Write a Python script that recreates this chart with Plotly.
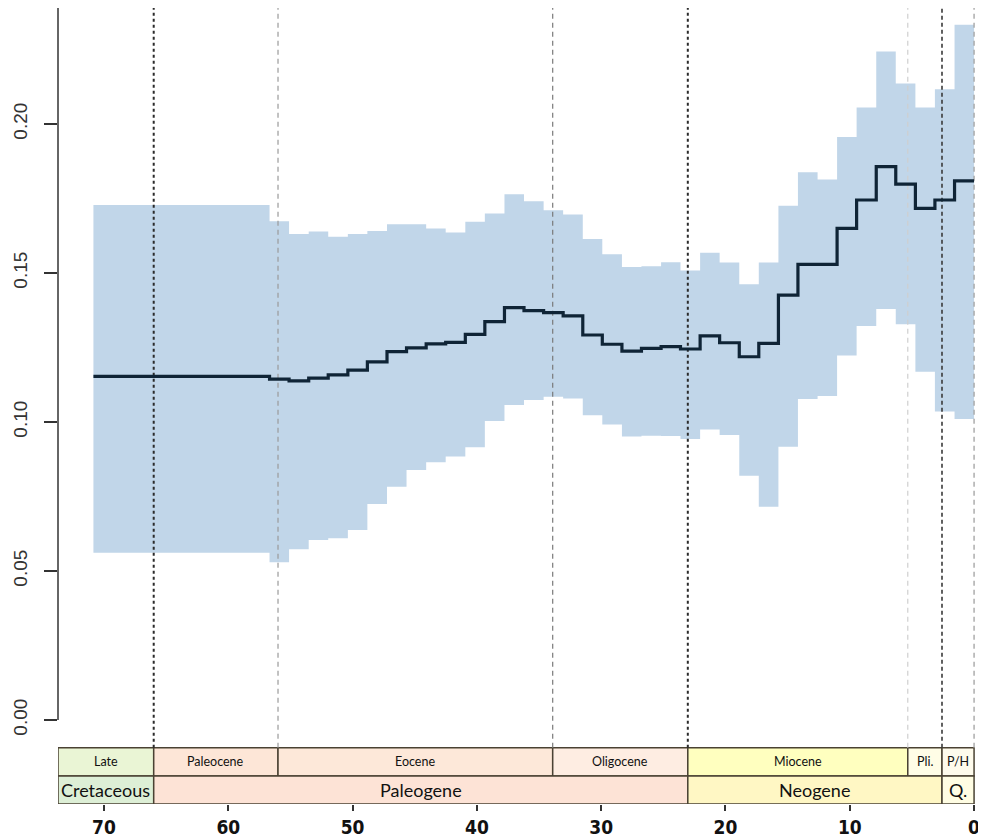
import plotly.graph_objects as go

# ---------------- data ----------------
bin_edges = [70.85, 69.28, 67.70, 66.13, 64.55, 62.98, 61.40, 59.83, 58.25, 56.68,
             55.11, 53.53, 51.96, 50.38, 48.81, 47.23, 45.66, 44.08, 42.51, 40.93,
             39.36, 37.78, 36.21, 34.63, 33.06, 31.48, 29.91, 28.33, 26.76, 25.18,
             23.62, 22.04, 20.47, 18.89, 17.32, 15.74, 14.17, 12.59, 11.02, 9.45,
             7.87, 6.30, 4.72, 3.15, 1.57, 0.00]

mean_vals = [0.1153, 0.1153, 0.1153, 0.1153, 0.1153, 0.1153, 0.1153, 0.1153, 0.1153,
             0.1144, 0.1138, 0.1147, 0.1158, 0.1174, 0.1202, 0.1236, 0.1249, 0.1262,
             0.1267, 0.1294, 0.1337, 0.1384, 0.1374, 0.1367, 0.1356, 0.1292, 0.1261,
             0.1238, 0.1247, 0.1253, 0.1245, 0.1289, 0.1266, 0.1219, 0.1264, 0.1426,
             0.1529, 0.1529, 0.1650, 0.1745, 0.1857, 0.1798, 0.1717, 0.1745, 0.1809]

upper_vals = [0.1728, 0.1728, 0.1728, 0.1728, 0.1728, 0.1728, 0.1728, 0.1728, 0.1728,
              0.1674, 0.1631, 0.1639, 0.1622, 0.1631, 0.1641, 0.1664, 0.1664, 0.1649,
              0.1636, 0.1672, 0.1700, 0.1764, 0.1741, 0.1711, 0.1696, 0.1614, 0.1563,
              0.1520, 0.1523, 0.1536, 0.1508, 0.1568, 0.1535, 0.1462, 0.1535, 0.1726,
              0.1838, 0.1814, 0.1956, 0.2055, 0.2243, 0.2136, 0.2055, 0.2117, 0.2333]

lower_vals = [0.0561, 0.0561, 0.0561, 0.0561, 0.0561, 0.0561, 0.0561, 0.0561, 0.0561,
              0.0529, 0.0573, 0.0604, 0.0610, 0.0638, 0.0725, 0.0783, 0.0839, 0.0865,
              0.0884, 0.0915, 0.1003, 0.1057, 0.1074, 0.1085, 0.1079, 0.1023, 0.0992,
              0.0951, 0.0954, 0.0953, 0.0943, 0.0975, 0.0956, 0.0820, 0.0716, 0.0917,
              0.1077, 0.1087, 0.1223, 0.1322, 0.1379, 0.1328, 0.1169, 0.1035, 0.1010]

x_ticks = [70, 60, 50, 40, 30, 20, 10, 0]
y_ticks = [0.00, 0.05, 0.10, 0.15, 0.20]
y_tick_labels = ["0.00", "0.05", "0.10", "0.15", "0.20"]

axis_start = 73.7
epoch_names = ["Late", "Paleocene", "Eocene", "Oligocene", "Miocene", "Pli.", "P/H"]
epoch_start = [axis_start, 66.0, 56.0, 33.9, 23.03, 5.333, 2.58]
epoch_end = [66.0, 56.0, 33.9, 23.03, 5.333, 2.58, 0.0]
epoch_colors = ["#EAF5D5", "#FDE6D7", "#FDE8D9", "#FEEDE2", "#FFFFBF", "#FFFDE6", "#FEFBEC"]

period_names = ["Cretaceous", "Paleogene", "Neogene", "Q."]
period_start = [axis_start, 66.0, 23.03, 2.58]
period_end = [66.0, 23.03, 2.58, 0.0]
period_colors = ["#DDEFD6", "#FDE3D6", "#FFF7C4", "#FFFDE3"]

boundary_ages = [66.0, 56.0, 33.9, 23.03, 5.333, 2.58, 0.0]
boundary_colors = ["#2b2b2b", "#9a9a9a", "#7a7a7a", "#2b2b2b", "#cfcfcf", "#3a3a3a", "#a8a8a8"]
boundary_widths = [2.0, 1.2, 1.2, 2.0, 1.2, 1.6, 1.4]
boundary_dash = ["3px,3px", "5px,4px", "5px,4px", "3px,3px", "5px,4px", "4px,3px", "5px,4px"]

# ---------------- layout constants ----------------
Y_TOP = 0.23893
Y_BOT = -0.02819
ROW1_TOP = -0.0093
ROW_MID = -0.01879
ROW2_BOT = -0.02819

fig = go.Figure()

# band (step)
up_y = upper_vals + [upper_vals[-1]]
lo_y = lower_vals + [lower_vals[-1]]
fig.add_trace(go.Scatter(x=bin_edges, y=up_y, mode="lines", line=dict(shape="hv", width=0, color="#c1d6e9"),
                         hoverinfo="skip"))
fig.add_trace(go.Scatter(x=bin_edges, y=lo_y, mode="lines", line=dict(shape="hv", width=0, color="#c1d6e9"),
                         fill="tonexty", fillcolor="#c1d6e9", hoverinfo="skip"))

# boundary lines
for a, c, w, d in zip(boundary_ages, boundary_colors, boundary_widths, boundary_dash):
    fig.add_trace(go.Scatter(x=[a, a], y=[ROW1_TOP, Y_TOP], mode="lines",
                             line=dict(color=c, width=w, dash=d), hoverinfo="skip"))

# mean line
mean_y = mean_vals + [mean_vals[-1]]
fig.add_trace(go.Scatter(x=bin_edges, y=mean_y, mode="lines",
                         line=dict(shape="hv", width=3.2, color="#0f2436"), hoverinfo="skip"))

shapes = []
annotations = []
border = "#4a4233"
for n, s, e, c in zip(epoch_names, epoch_start, epoch_end, epoch_colors):
    shapes.append(dict(type="rect", xref="x", yref="y", x0=s, x1=e, y0=ROW_MID, y1=ROW1_TOP,
                       fillcolor=c, line=dict(color=border, width=1.5), layer="below"))
    annotations.append(dict(x=(s + e) / 2, y=(ROW_MID + ROW1_TOP) / 2, xref="x", yref="y", text=n,
                            showarrow=False, font=dict(family="Lato, Open Sans", size=12.5, color="#111")))
for n, s, e, c in zip(period_names, period_start, period_end, period_colors):
    shapes.append(dict(type="rect", xref="x", yref="y", x0=s, x1=e, y0=ROW2_BOT, y1=ROW_MID,
                       fillcolor=c, line=dict(color=border, width=1.5), layer="below"))
    annotations.append(dict(x=(s + e) / 2, y=(ROW_MID + ROW2_BOT) / 2, xref="x", yref="y", text=n,
                            showarrow=False, font=dict(family="Lato, Open Sans", size=18, color="#111")))

# y axis line
shapes.append(dict(type="line", xref="paper", yref="y", x0=0, x1=0, y0=0, y1=Y_TOP,
                   line=dict(color="#333", width=1.5)))

# page body has an 8px margin: figure is sized/offset so marks land on the reference pixels
fig.update_layout(
    width=978, height=831,
    margin=dict(l=50, r=0, t=0, b=35),
    plot_bgcolor="white", paper_bgcolor="white",
    showlegend=False,
    shapes=shapes, annotations=annotations,
    xaxis=dict(range=[axis_start, -0.96], tickvals=x_ticks, ticktext=[str(t) for t in x_ticks],
               ticks="outside", ticklen=6, tickwidth=1.5, tickcolor="#333",
               showgrid=False, zeroline=False, showline=False,
               tickfont=dict(family="DejaVu Sans Condensed, Liberation Sans Narrow, Arial Narrow",
                             size=19, color="#111", weight="bold")),
    yaxis=dict(range=[Y_BOT, Y_TOP], tickvals=y_ticks, ticktext=y_tick_labels,
               ticks="outside", ticklen=13, tickwidth=1.5, tickcolor="#333", tickangle=-90,
               showgrid=False, zeroline=False, showline=False, ticklabelstandoff=9,
               tickfont=dict(family="Liberation Sans, Arial", size=19, color="#333")),
)

fig.write_html("out.html")
